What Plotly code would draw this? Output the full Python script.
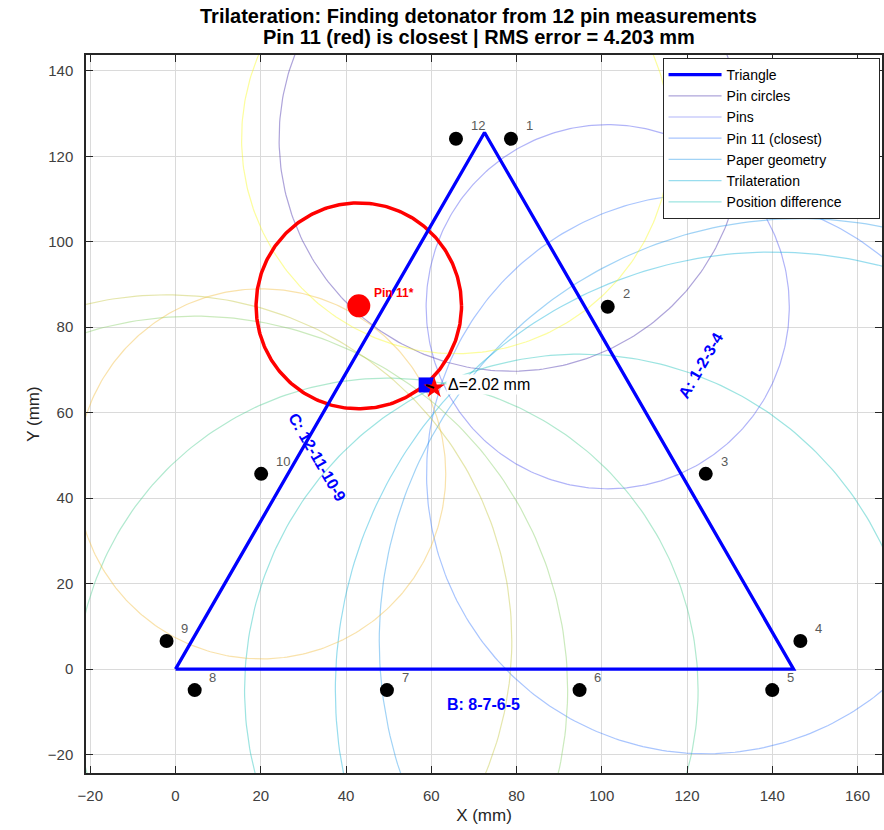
import numpy as np
import plotly.graph_objects as go

# Equilateral triangle, side 145 mm
tri_x = [0.0, 145.0, 72.5, 0.0]
tri_y = [0.0, 0.0, 125.57, 0.0]

# Pin positions (mm) and measured radii (mm)
pin_ids = [1, 2, 3, 4, 5, 6, 7, 8, 9, 10, 11, 12]
pin_x = [78.7, 101.4, 124.4, 146.6, 140.0, 94.8, 49.6, 4.5, -2.1, 20.1, 43.0, 65.8]
pin_y = [124.1, 84.8, 45.7, 6.6, -4.9, -4.9, -4.9, -4.9, 6.6, 45.7, 85.0, 124.1]
pin_r = [54.4, 42.6, 65.5, 98.8, 102.5, 78.6, 73.0, 87.5, 81.0, 43.3, 24.1, 50.3]

closest_pin = 11
rms_error = 4.203

# Detonator estimates
paper_x, paper_y = 58.8, 66.5
tril_x, tril_y = 60.7, 65.8

# Edge labels
edge_text = ["A: 1-2-3-4", "B: 8-7-6-5", "C: 12-11-10-9"]
edge_x = [123.2, 72.2, 33.3]
edge_y = [71.1, -8.2, 49.6]
edge_angle = [-60, 0, 60]

# Legend labels (attached to the first plotted lines, in order)
legend_names = ["Triangle", "Pin circles", "Pins", "Pin 11 (closest)",
                "Paper geometry", "Trilateration", "Position difference"]

# parula(12)
parula12 = [
    (0.2422, 0.1504, 0.6603), (0.2717, 0.2999, 0.9357), (0.1945, 0.4564, 0.9934),
    (0.1201, 0.5852, 0.9119), (0.0361, 0.6876, 0.8401), (0.0872, 0.7478, 0.7162),
    (0.2657, 0.7952, 0.5500), (0.5172, 0.8026, 0.3835), (0.7524, 0.7632, 0.2249),
    (0.9420, 0.7297, 0.2199), (0.9687, 0.8567, 0.1613), (0.9769, 0.9839, 0.0805),
]
circle_alpha = 0.42


def rgba(c, a):
    return "rgba(%d,%d,%d,%.2f)" % (round(c[0] * 255), round(c[1] * 255), round(c[2] * 255), a)


def legend_label(text, longest):
    # pad so the legend box keeps a roomy right margin
    return text + "\u00a0" * 8 if text == longest else text


longest_name = max(legend_names, key=len)
theta = np.linspace(0, 2 * np.pi, 361)
fig = go.Figure()

# Pin circles
for i, pid in enumerate(pin_ids):
    if pid == closest_pin:
        continue
    cx, cy, r = pin_x[i], pin_y[i], pin_r[i]
    name = legend_label(legend_names[pid], longest_name) if pid <= 6 else None
    fig.add_trace(go.Scatter(
        x=cx + r * np.cos(theta), y=cy + r * np.sin(theta), mode="lines",
        line=dict(color=rgba(parula12[i], circle_alpha), width=1.2),
        name=name, showlegend=pid <= 6, legendrank=100 + pid, hoverinfo="skip"))

# Closest pin circle
k = pin_ids.index(closest_pin)
fig.add_trace(go.Scatter(
    x=pin_x[k] + pin_r[k] * np.cos(theta), y=pin_y[k] + pin_r[k] * np.sin(theta),
    mode="lines", line=dict(color="#ff0000", width=3.5), showlegend=False))

# Triangle
fig.add_trace(go.Scatter(x=tri_x, y=tri_y, mode="lines", line=dict(color="#0000ff", width=3.3),
                         name=legend_names[0], legendrank=1))

# Pins
others = [i for i, p in enumerate(pin_ids) if p != closest_pin]
fig.add_trace(go.Scatter(x=[pin_x[i] for i in others], y=[pin_y[i] for i in others], mode="markers",
                         marker=dict(color="black", size=14), showlegend=False))
fig.add_trace(go.Scatter(x=[pin_x[k]], y=[pin_y[k]], mode="markers",
                         marker=dict(color="#ff0000", size=23), showlegend=False))

# Detonator estimates and their difference
fig.add_trace(go.Scatter(x=[paper_x], y=[paper_y], mode="markers",
                         marker=dict(symbol="square", color="#0000ff", size=15), showlegend=False))
fig.add_trace(go.Scatter(x=[tril_x], y=[tril_y], mode="markers",
                         marker=dict(symbol="star", color="#ff0000", size=16), showlegend=False))
fig.add_trace(go.Scatter(x=[paper_x, tril_x], y=[paper_y, tril_y], mode="lines",
                         line=dict(color="black", width=2), showlegend=False))

delta = float(np.hypot(tril_x - paper_x, tril_y - paper_y))

annotations = []
for i, pid in enumerate(pin_ids):
    if pid == closest_pin:
        annotations.append(dict(x=pin_x[i] + 3, y=pin_y[i] + 3, text="<b>Pin %d*</b>" % pid,
                                showarrow=False, xanchor="left", yanchor="middle",
                                font=dict(size=12, color="#ff0000")))
    else:
        annotations.append(dict(x=pin_x[i] + 3, y=pin_y[i] + 3, text=str(pid),
                                showarrow=False, xanchor="left", yanchor="middle",
                                font=dict(size=13, color="#5a5a5a")))
for t, ex, ey, ang in zip(edge_text, edge_x, edge_y, edge_angle):
    annotations.append(dict(x=ex, y=ey, text="<b>%s</b>" % t, showarrow=False, textangle=ang,
                            font=dict(size=16, color="#0000ff")))
annotations.append(dict(x=paper_x + 4.7, y=paper_y, text="\u0394=%.2f mm" % delta, showarrow=False,
                        xanchor="left", yanchor="middle", bgcolor="white",
                        font=dict(size=16, color="black")))

# Two-line title
title_lines = ["Trilateration: Finding detonator from 12 pin measurements",
               "Pin %d (red) is closest | RMS error = %.3f mm" % (closest_pin, rms_error)]
for line, ty in zip(title_lines, [1.0543, 1.0251]):
    annotations.append(dict(x=0.4937, y=ty, xref="paper", yref="paper", text="<b>%s</b>" % line,
                            showarrow=False, xanchor="center", yanchor="middle",
                            font=dict(size=20, color="black")))

axis_common = dict(showgrid=True, gridcolor="#dadada", gridwidth=1, zeroline=False,
                   showline=True, linecolor="#262626", linewidth=1.5, mirror="allticks",
                   ticks="inside", ticklen=7, tickcolor="#262626",
                   tickfont=dict(size=15, color="#404040"))

fig.update_layout(
    width=884, height=830, autosize=False,
    margin=dict(l=86, r=0, t=55, b=57),
    paper_bgcolor="white", plot_bgcolor="white",
    font=dict(family="Liberation Sans, Arial, sans-serif"),
    xaxis=dict(range=[-21, 165.75], tickvals=list(range(-20, 161, 20)),
               title=dict(text="X (mm)", font=dict(size=17, color="#262626"), standoff=6),
               ticklabelstandoff=8, **axis_common),
    yaxis=dict(range=[-24.3, 143.7], tickvals=list(range(-20, 141, 20)),
               title=dict(text="Y (mm)", font=dict(size=17, color="#262626"), standoff=4),
               ticklabelstandoff=8, **axis_common),
    legend=dict(x=0.7243, y=0.9958, xanchor="left", yanchor="top", bgcolor="white",
                bordercolor="#262626", borderwidth=1, font=dict(size=14, color="black"),
                itemwidth=53, tracegroupgap=0),
    annotations=annotations,
    showlegend=True,
)

fig.write_html("out.html")
